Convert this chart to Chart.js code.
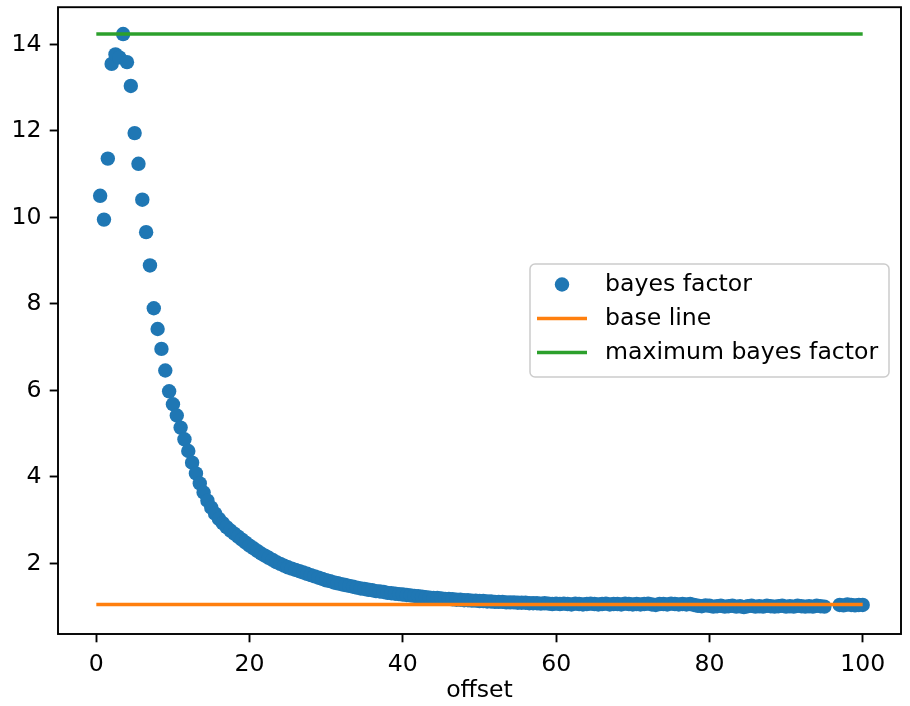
<!DOCTYPE html>
<html>
<head>
<meta charset="utf-8">
<title>bayes factor vs offset</title>
<script src="https://cdn.jsdelivr.net/npm/chart.js@4.4.1/dist/chart.umd.min.js"></script>
<style>
    html, body { margin: 0; padding: 0; background: #ffffff; }
    #wrap { width: 910px; height: 706px; }
</style>
</head>
<body>
<div id="wrap"><canvas id="bf" width="910" height="706"></canvas></div>
<script>
    /* global Chart */

    // Offsets that have a computed bayes factor (95.5 - 96.5 are absent)
    var offsets = [
        0.5, 1.0, 1.5, 2.0, 2.5, 3.0, 3.5, 4.0, 4.5, 5.0, 5.5, 6.0, 6.5, 7.0, 7.5, 8.0, 8.5, 9.0, 9.5, 10.0,
        10.5, 11.0, 11.5, 12.0, 12.5, 13.0, 13.5, 14.0, 14.5, 15.0, 15.5, 16.0, 16.5, 17.0, 17.5, 18.0, 18.5, 19.0, 19.5, 20.0,
        20.5, 21.0, 21.5, 22.0, 22.5, 23.0, 23.5, 24.0, 24.5, 25.0, 25.5, 26.0, 26.5, 27.0, 27.5, 28.0, 28.5, 29.0, 29.5, 30.0,
        30.5, 31.0, 31.5, 32.0, 32.5, 33.0, 33.5, 34.0, 34.5, 35.0, 35.5, 36.0, 36.5, 37.0, 37.5, 38.0, 38.5, 39.0, 39.5, 40.0,
        40.5, 41.0, 41.5, 42.0, 42.5, 43.0, 43.5, 44.0, 44.5, 45.0, 45.5, 46.0, 46.5, 47.0, 47.5, 48.0, 48.5, 49.0, 49.5, 50.0,
        50.5, 51.0, 51.5, 52.0, 52.5, 53.0, 53.5, 54.0, 54.5, 55.0, 55.5, 56.0, 56.5, 57.0, 57.5, 58.0, 58.5, 59.0, 59.5, 60.0,
        60.5, 61.0, 61.5, 62.0, 62.5, 63.0, 63.5, 64.0, 64.5, 65.0, 65.5, 66.0, 66.5, 67.0, 67.5, 68.0, 68.5, 69.0, 69.5, 70.0,
        70.5, 71.0, 71.5, 72.0, 72.5, 73.0, 73.5, 74.0, 74.5, 75.0, 75.5, 76.0, 76.5, 77.0, 77.5, 78.0, 78.5, 79.0, 79.5, 80.0,
        80.5, 81.0, 81.5, 82.0, 82.5, 83.0, 83.5, 84.0, 84.5, 85.0, 85.5, 86.0, 86.5, 87.0, 87.5, 88.0, 88.5, 89.0, 89.5, 90.0,
        90.5, 91.0, 91.5, 92.0, 92.5, 93.0, 93.5, 94.0, 94.5, 95.0, 97.0, 97.5, 98.0, 98.5, 99.0, 99.5, 100.0
    ];

    var bayesFactors = [
        10.50, 9.95, 11.36, 13.55, 13.77, 13.70, 14.24, 13.59, 13.04, 11.95, 11.24, 10.41, 9.66, 8.89, 7.90, 7.42, 6.96, 6.46, 5.98, 5.68,
        5.42, 5.14, 4.87, 4.60, 4.33, 4.08, 3.85, 3.64, 3.45, 3.29, 3.15, 3.03, 2.93, 2.84, 2.76, 2.69, 2.62, 2.55, 2.48, 2.41,
        2.35, 2.29, 2.23, 2.18, 2.13, 2.08, 2.03, 1.99, 1.95, 1.91, 1.88, 1.85, 1.82, 1.79, 1.76, 1.73, 1.70, 1.67, 1.64, 1.61,
        1.59, 1.56, 1.54, 1.52, 1.50, 1.48, 1.46, 1.44, 1.42, 1.41, 1.39, 1.38, 1.36, 1.35, 1.34, 1.32, 1.31, 1.30, 1.29, 1.28,
        1.27, 1.26, 1.25, 1.24, 1.23, 1.22, 1.21, 1.20, 1.20, 1.19, 1.18, 1.18, 1.17, 1.16, 1.16, 1.15, 1.15, 1.14, 1.14, 1.13,
        1.13, 1.12, 1.12, 1.11, 1.11, 1.11, 1.10, 1.10, 1.10, 1.09, 1.09, 1.09, 1.08, 1.08, 1.08, 1.07, 1.08, 1.07, 1.06, 1.07,
        1.06, 1.07, 1.06, 1.05, 1.07, 1.06, 1.05, 1.06, 1.07, 1.06, 1.05, 1.06, 1.07, 1.05, 1.06, 1.06, 1.05, 1.07, 1.06, 1.05,
        1.06, 1.05, 1.06, 1.07, 1.05, 1.04, 1.06, 1.06, 1.05, 1.07, 1.06, 1.05, 1.06, 1.05, 1.06, 1.04, 1.02, 1.01, 1.03, 1.02,
        1.00, 1.01, 1.02, 1.00, 1.01, 1.02, 1.00, 1.01, 0.99, 1.01, 1.02, 1.00, 1.01, 1.00, 1.02, 1.01, 1.00, 1.01, 1.02, 1.00,
        1.01, 1.00, 1.02, 1.01, 1.00, 1.01, 1.00, 1.02, 1.01, 1.00, 1.04, 1.03, 1.05, 1.04, 1.03, 1.04, 1.04
    ];

    var baseLine = 1.05;
    var lineSpan = [0, 100];

    var xTicks = [0, 20, 40, 60, 80, 100];
    var yTicks = [2, 4, 6, 8, 10, 12, 14];

    var legendLabels = ['bayes factor', 'base line', 'maximum bayes factor'];

    var colors = {
        points: '#1f77b4',
        base: '#ff7f0e',
        max: '#2ca02c'
    };

    var FONT = '"DejaVu Sans", sans-serif';
    var FONT_SIZE = 23.6;

    var maxFactor = Math.max.apply(null, bayesFactors);

    var points = offsets.map(function(x, i) {
        return { x: x, y: bayesFactors[i] };
    });

    function hLine(y) {
        return [{ x: lineSpan[0], y: y }, { x: lineSpan[1], y: y }];
    }

    /**
     * Closed frame around the plot area (top/right spines too).
     */
    var frame = {
        id: 'frame',
        afterDatasetsDraw: function(chart) {
            var a = chart.chartArea;
            var ctx = chart.ctx;
            ctx.save();
            ctx.strokeStyle = '#000';
            ctx.lineWidth = 1.9;
            ctx.strokeRect(a.left, a.top, a.right - a.left, a.bottom - a.top);
            ctx.restore();
        }
    };

    /**
     * Boxed legend sitting inside the plot, right of centre.
     */
    var boxLegend = {
        id: 'boxLegend',
        afterDraw: function(chart) {
            var ctx = chart.ctx;
            var left = 530, top = 264, w = 359, h = 113, r = 5;
            var handleX = 537, handleW = 50, textX = 605;
            var rows = [284.5, 318.5, 352.5];

            ctx.save();
            ctx.beginPath();
            ctx.moveTo(left + r, top);
            ctx.arcTo(left + w, top, left + w, top + h, r);
            ctx.arcTo(left + w, top + h, left, top + h, r);
            ctx.arcTo(left, top + h, left, top, r);
            ctx.arcTo(left, top, left + w, top, r);
            ctx.closePath();
            ctx.fillStyle = 'rgba(255,255,255,0.8)';
            ctx.fill();
            ctx.strokeStyle = '#cccccc';
            ctx.lineWidth = 1.5;
            ctx.stroke();

            // scatter handle
            ctx.beginPath();
            ctx.arc(handleX + handleW / 2, rows[0], 7.2, 0, Math.PI * 2);
            ctx.fillStyle = colors.points;
            ctx.fill();

            // line handles
            ctx.lineWidth = 3.5;
            [colors.base, colors.max].forEach(function(c, i) {
                ctx.beginPath();
                ctx.moveTo(handleX, rows[i + 1]);
                ctx.lineTo(handleX + handleW, rows[i + 1]);
                ctx.strokeStyle = c;
                ctx.stroke();
            });

            ctx.fillStyle = '#000';
            ctx.font = FONT_SIZE + 'px ' + FONT;
            ctx.textAlign = 'left';
            ctx.textBaseline = 'alphabetic';
            legendLabels.forEach(function(label, i) {
                ctx.fillText(label, textX, rows[i] + 6.5);
            });
            ctx.restore();
        }
    };

    function fixedTicks(values) {
        return function(scale) {
            scale.ticks = values.map(function(v) { return { value: v }; });
        };
    }

    var tickGrid = {
        display: true,
        drawOnChartArea: false,
        drawTicks: true,
        tickLength: 8.3,
        tickWidth: 1.9,
        tickColor: '#000'
    };

    Chart.defaults.font.family = FONT;
    Chart.defaults.font.size = FONT_SIZE;
    Chart.defaults.color = '#000';

    new Chart(document.getElementById('bf').getContext('2d'), {
        type: 'scatter',
        data: {
            datasets: [
                {
                    label: legendLabels[0],
                    data: points,
                    backgroundColor: colors.points,
                    borderWidth: 0,
                    pointRadius: 7.2,
                    order: 2
                },
                {
                    label: legendLabels[1],
                    type: 'line',
                    data: hLine(baseLine),
                    borderColor: colors.base,
                    borderWidth: 3.5,
                    pointRadius: 0,
                    fill: false,
                    order: 1
                },
                {
                    label: legendLabels[2],
                    type: 'line',
                    data: hLine(maxFactor),
                    borderColor: colors.max,
                    borderWidth: 3.5,
                    pointRadius: 0,
                    fill: false,
                    order: 1
                }
            ]
        },
        options: {
            responsive: false,
            animation: false,
            devicePixelRatio: 1,
            layout: { padding: { top: 6, right: 9, left: 0, bottom: 0 } },
            plugins: {
                legend: { display: false },
                tooltip: { enabled: false }
            },
            scales: {
                x: {
                    type: 'linear',
                    min: -5,
                    max: 105,
                    afterBuildTicks: fixedTicks(xTicks),
                    afterFit: function(scale) {
                        scale.height = 72;
                        scale.paddingLeft = 0;
                        scale.paddingRight = 0;
                    },
                    grid: tickGrid,
                    border: { display: false },
                    ticks: { padding: 8.3, maxRotation: 0, autoSkip: false },
                    title: {
                        display: true,
                        text: 'offset',
                        padding: { top: 0, bottom: 1 }
                    }
                },
                y: {
                    type: 'linear',
                    min: 0.368,
                    max: 14.861,
                    afterBuildTicks: fixedTicks(yTicks),
                    afterFit: function(scale) {
                        scale.width = 58;
                        scale.paddingTop = 0;
                        scale.paddingBottom = 0;
                    },
                    grid: tickGrid,
                    border: { display: false },
                    ticks: { padding: 8.3, autoSkip: false }
                }
            }
        },
        plugins: [frame, boxLegend]
    });
</script>
</body>
</html>
